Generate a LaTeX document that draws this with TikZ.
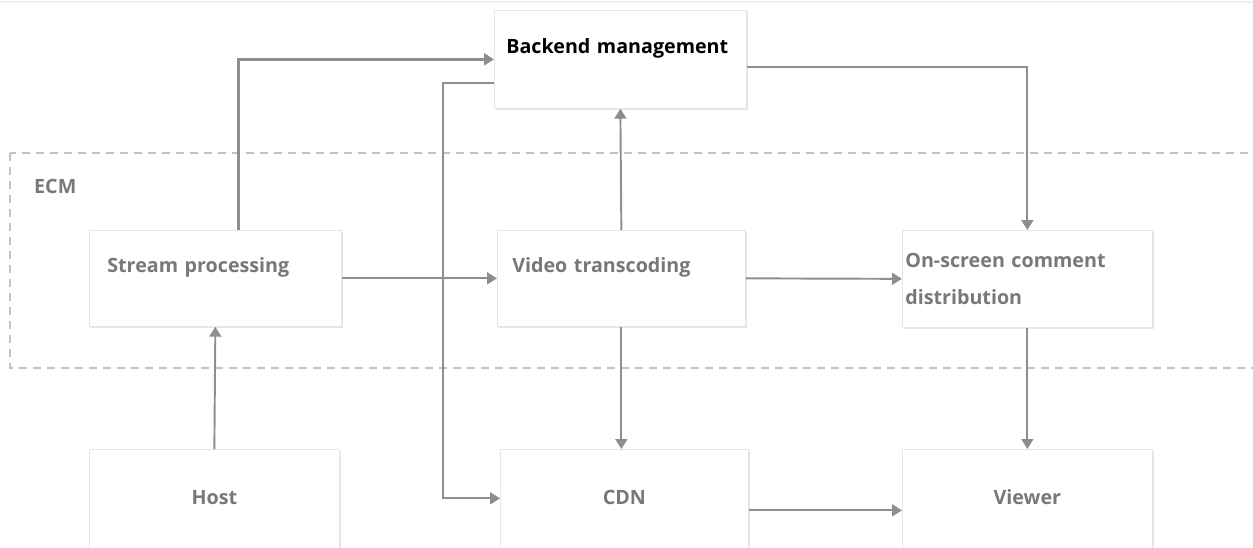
\documentclass[tikz,border=0pt]{standalone}
\usepackage{fontspec}
\setmainfont{Open Sans}
\usetikzlibrary{calc,positioning,arrows.meta,shadows}
\definecolor{lineshade}{HTML}{8E8E8E}
\definecolor{textshade}{HTML}{787878}
\definecolor{boxedge}{HTML}{E6E6E6}
\definecolor{frameshade}{HTML}{C2C2C2}

\begin{document}
\begin{tikzpicture}[
  procbox/.style={draw=boxedge, fill=white, anchor=north west, align=left, minimum height=1.92cm, text=textshade, font=\fontsize{11.2}{21}\selectfont\bfseries, drop shadow={shadow xshift=0.04cm, shadow yshift=-0.04cm, opacity=0.2}},
  raised/.style={text depth=0.55cm},
  endbox/.style={draw=boxedge, fill=white, anchor=north west, minimum height=2.2cm, text depth=0.28cm, text=textshade, font=\fontsize{11.2}{21}\selectfont\bfseries, drop shadow={shadow xshift=0.04cm, shadow yshift=-0.04cm, opacity=0.2}},
  ecmframe/.style={draw=frameshade, line width=1.1pt, dash pattern=on 0.16cm off 0.12cm},
  flow/.style={draw=lineshade, line width=1.1pt, -{Triangle[length=0.2cm, width=0.24cm]}},
  thickflow/.style={flow, line width=2pt}
]
  \useasboundingbox (0,0) rectangle (25.06,-10.94);
  \draw[boxedge!60, line width=0.8pt] (0,-0.04) -- (25.06,-0.04);

  % ECM region
  \draw[ecmframe] (0.20,-3.06) rectangle (25.5,-7.36);
  \node[anchor=west, text=textshade, font=\fontsize{11.2}{13}\selectfont\bfseries] (ecm) at (0.56,-3.72) {ECM};

  % boxes
  \node[procbox, raised, text=black, minimum height=1.96cm, text width=4.56cm, inner xsep=0.24cm] (backend) at (9.88,-0.20) {Backend management};
  \node[procbox, raised, text width=4.32cm, inner xsep=0.36cm] (stream) at (1.78,-4.60) {Stream processing};
  \node[procbox, raised, text width=4.36cm, inner xsep=0.30cm] (transcode) at (9.94,-4.60) {Video transcoding};
  \node[procbox, minimum height=1.94cm, text width=4.88cm, inner xsep=0.06cm] (comment) at (18.04,-4.60) {On-screen comment\\distribution};
  \node[endbox, minimum width=5.00cm] (host) at (1.78,-8.98) {Host};
  \node[endbox, minimum width=4.96cm] (cdn) at (10.00,-8.98) {CDN};
  \node[endbox, minimum width=5.00cm] (viewer) at (18.04,-8.98) {Viewer};

  % connectors
  \draw[thickflow] ([xshift=0.46cm]stream.north) |- (backend.west);
  \draw[flow] ([yshift=-0.48cm]backend.west) -- ++(-1.02,0) |- ([yshift=0.12cm]cdn.west);
  \draw[flow] (stream.east) -- (transcode.west);
  \draw[flow] (transcode.north) -- (backend.south);
  \draw[flow] ([yshift=-0.16cm]backend.east) -| (comment.north);
  \draw[flow] (transcode.east) -- (comment.west);
  \draw[flow] (transcode.south) -- (transcode.south |- cdn.north);
  \draw[flow] (comment.south) -- (viewer.north);
  \draw[flow] (host.north) -- (stream.south);
  \draw[flow] ([yshift=-0.12cm]cdn.east) -- ([yshift=-0.12cm]viewer.west);
\end{tikzpicture}
\end{document}
